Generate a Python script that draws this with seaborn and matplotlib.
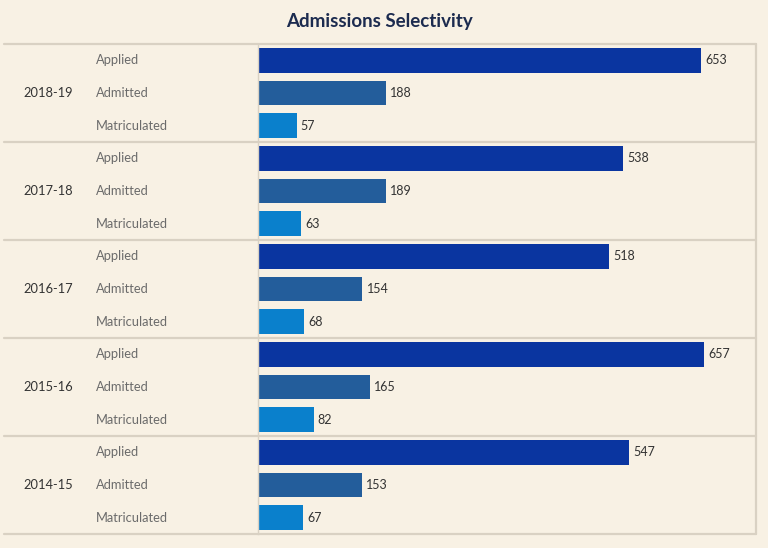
import matplotlib.pyplot as plt
import matplotlib.transforms as mtransforms
import seaborn as sns
import pandas as pd

years = ["2018-19", "2017-18", "2016-17", "2015-16", "2014-15"]
stages = ["Applied", "Admitted", "Matriculated"]
applied = [653, 538, 518, 657, 547]
admitted = [188, 189, 154, 165, 153]
matriculated = [57, 63, 68, 82, 67]

colors = {"Applied": "#0a35a0", "Admitted": "#235d9b", "Matriculated": "#0a80cc"}
bg = "#f8f1e4"
line_col = "#d9d1c3"

rows = []
for i, yr in enumerate(years):
    for stage, vals in zip(stages, [applied, admitted, matriculated]):
        rows.append({"row": f"{yr} {stage}", "year": yr, "stage": stage, "count": vals[i]})
df = pd.DataFrame(rows)

sns.set_style("white")
plt.rcParams["font.family"] = ["Lato", "DejaVu Sans"]

W, H = 768, 548
fig = plt.figure(figsize=(W / 100, H / 100), dpi=100, facecolor=bg)
x0, x1, y0, y1 = 258, 756, 44, 534
ax = fig.add_axes([x0 / W, 1 - y1 / H, (x1 - x0) / W, (y1 - y0) / H])
ax.set_facecolor(bg)

sns.barplot(data=df, y="row", x="count", hue="stage", palette=colors,
            dodge=False, width=0.76, orient="h", ax=ax, legend=False,
            saturation=1, linewidth=0)
for c in ax.containers:
    ax.bar_label(c, padding=3, fontsize=9, color="#333333")

ax.set_xlim(0, 734)
ax.set_ylim(len(df) - 0.5, -0.5)
ax.set_xticks([])
ax.set_yticks([])
ax.set_xlabel("")
ax.set_ylabel("")
for s in ["top", "bottom", "right"]:
    ax.spines[s].set_visible(False)
ax.spines["left"].set_color(line_col)
ax.spines["left"].set_linewidth(1.0)

# labels in figure x, data y
tr = mtransforms.blended_transform_factory(fig.transFigure, ax.transData)
for i, r in df.iterrows():
    ax.text(96 / W, i, r["stage"], transform=tr, ha="left", va="center",
            fontsize=9.3, color="#6b6b6b", clip_on=False)
for g, yr in enumerate(years):
    ax.text(23 / W, g * 3 + 1, yr, transform=tr, ha="left", va="center",
            fontsize=9.3, color="#333333", clip_on=False)

# group separators and frame
for g in range(len(years) + 1):
    ax.plot([4 / W, x1 / W], [g * 3 - 0.5] * 2, transform=tr, color=line_col,
            lw=1.6, clip_on=False)
ax.plot([x1 / W, x1 / W], [-0.5, len(df) - 0.5], transform=tr, color=line_col,
        lw=1.6, clip_on=False)

fig.text(379 / W, 1 - 22 / H, "Admissions Selectivity", ha="center", va="center",
         fontsize=13.5, fontweight="bold", color="#1c2b4f")

fig.savefig("out.png", dpi=100, facecolor=bg)
